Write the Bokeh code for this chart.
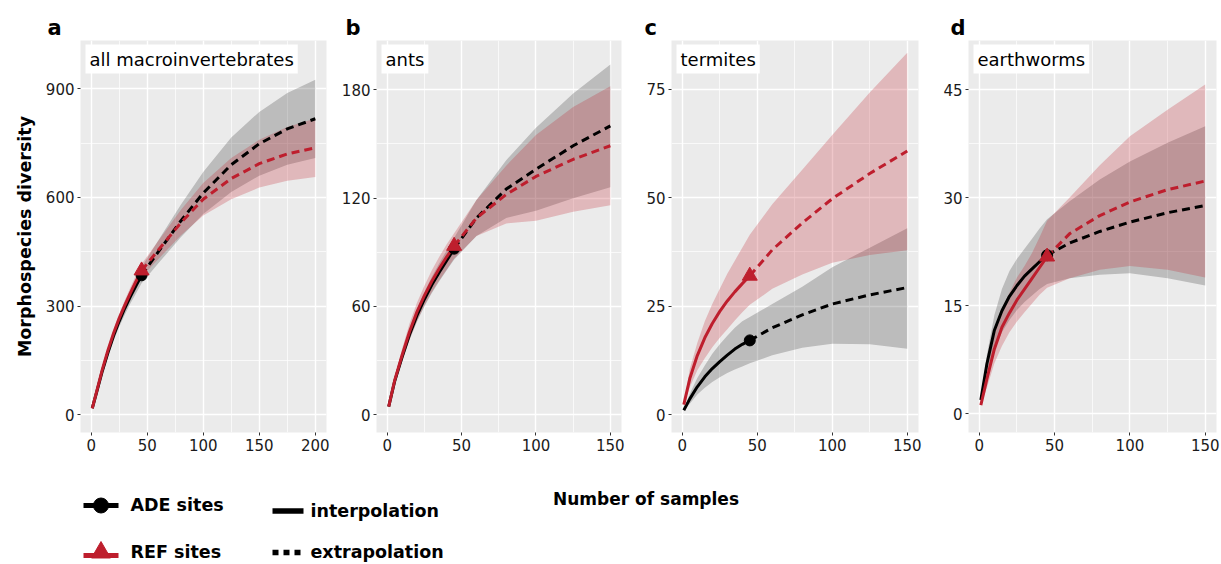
from bokeh.plotting import figure
from bokeh.layouts import row, column
from bokeh.models import Range1d, FixedTicker, Label
from bokeh.core.properties import value
from bokeh.embed import file_html
from bokeh.resources import INLINE

# ---- sample sizes (rarefaction up to the observed 45 samples, extrapolation beyond) ----
N_OBSERVED = 45
X_INTERP = [1, 5, 10, 15, 20, 25, 30, 35, 40, 45]
X_EXTRAP_150 = [60, 80, 100, 125, 150]
X_EXTRAP_200 = [60, 80, 100, 125, 150, 175, 200]

# ---- a: all macroinvertebrates ----
MACRO_ADE = [18, 63, 121, 172, 218, 258, 294, 326, 356, 385, 450, 535, 612, 690, 748, 789, 817]
MACRO_ADE_LO = [18, 58, 112, 160, 204, 242, 276, 307, 335, 363, 418, 490, 554, 615, 660, 690, 709]
MACRO_ADE_HI = [18, 68, 130, 184, 232, 274, 312, 345, 377, 407, 482, 580, 670, 765, 836, 888, 925]
MACRO_REF = [18, 65, 125, 178, 225, 266, 302, 336, 368, 398, 455, 530, 595, 652, 693, 720, 737]
MACRO_REF_LO = [18, 61, 118, 169, 214, 253, 288, 321, 351, 380, 430, 495, 550, 595, 627, 646, 656]
MACRO_REF_HI = [18, 69, 132, 187, 236, 279, 316, 351, 385, 416, 480, 565, 640, 709, 759, 794, 818]

# ---- b: ants ----
ANTS_ADE = [4.5, 18.5, 32, 44.5, 55, 64, 72, 79, 85.5, 92, 109, 125, 136, 149, 160]
ANTS_ADE_LO = [4.5, 17, 29.5, 41.5, 51.5, 60, 67.5, 74, 80, 86, 99, 109, 113, 120, 126]
ANTS_ADE_HI = [4.5, 20, 34.5, 47.5, 58.5, 68, 76.5, 84, 91, 98, 119, 141, 159, 178, 194]
ANTS_REF = [4.5, 19, 33, 46, 57, 66, 74, 81, 87.5, 93.5, 109, 122, 132, 141.5, 149]
ANTS_REF_LO = [4.5, 17, 29.5, 41.5, 52, 60.5, 68, 74.5, 80.5, 86.5, 99, 106, 107.5, 112.5, 116]
ANTS_REF_HI = [4.5, 21, 36.5, 50.5, 62, 71.5, 80, 87.5, 94.5, 100.5, 119, 138, 155, 170.5, 182]

# ---- c: termites ----
TERM_ADE = [1, 3.6, 6.4, 8.7, 10.6, 12.2, 13.7, 15.1, 16.2, 17.1, 20, 23, 25.5, 27.6, 29.3]
TERM_ADE_LO = [1, 2.5, 4.6, 6.2, 7.5, 8.6, 9.6, 10.4, 11.1, 11.8, 13.7, 15.4, 16.3, 16.2, 15.2]
TERM_ADE_HI = [1, 4.8, 8.4, 11.3, 14, 16.2, 18.2, 20, 21.5, 22.5, 25.5, 29.5, 34, 38.5, 43]
TERM_REF = [2.3, 8.3, 13.6, 17.7, 21, 23.8, 26.2, 28.3, 30.2, 32, 38, 44.2, 49.8, 55.6, 60.8]
TERM_REF_LO = [2.3, 6.3, 10.2, 13, 15.5, 17.7, 19.7, 21.7, 23.6, 25.3, 29, 32.3, 35, 36.8, 37.9]
TERM_REF_HI = [2.3, 10.5, 16.5, 21.5, 25.5, 29, 32.5, 35.5, 38.5, 41.5, 48.5, 56.5, 64.5, 74.3, 83.5]

# ---- d: earthworms ----
WORM_ADE = [1.9, 6.9, 11.6, 14.3, 16.3, 17.8, 19.1, 20.1, 21.1, 22, 23.7, 25.3, 26.6, 27.9, 28.9]
WORM_ADE_LO = [1.9, 5.4, 8.9, 11.3, 13, 14.4, 15.5, 16.4, 17.3, 18, 18.8, 19.3, 19.5, 18.8, 17.8]
WORM_ADE_HI = [1.9, 8.2, 13.7, 17.3, 19.8, 21.5, 22.9, 24.3, 25.7, 27, 29.5, 32.5, 35, 37.6, 39.9]
WORM_REF = [1.2, 4.8, 9, 12, 14, 15.8, 17.3, 18.8, 20.3, 21.8, 25, 27.5, 29.4, 31.1, 32.3]
WORM_REF_LO = [1.2, 3.6, 7, 9.4, 11.3, 12.8, 14.1, 15.3, 16.5, 17.5, 18.8, 20, 20.5, 20, 18.9]
WORM_REF_HI = [1.2, 6, 11, 14.6, 16.8, 18.9, 20.5, 22.3, 24.5, 26.8, 30, 34.5, 38.5, 42.2, 45.7]

# ---- labels and ticks ----
PANEL_LETTERS = ["a", "b", "c", "d"]
PANEL_NAMES = ["all macroinvertebrates", "ants", "termites", "earthworms"]
X_TICKS_200 = [0, 50, 100, 150, 200]
X_TICKS_150 = [0, 50, 100, 150]
Y_TICKS_MACRO = [0, 300, 600, 900]
Y_TICKS_ANTS = [0, 60, 120, 180]
Y_TICKS_TERM = [0, 25, 50, 75]
Y_TICKS_WORM = [0, 15, 30, 45]
GROUPS = ["ADE sites", "REF sites"]
METHODS = ["interpolation", "extrapolation"]

ADE_COLOR = "black"
REF_COLOR = "#BE1E2D"
PANEL_BG = "#EBEBEB"
FONT = "DejaVu Sans"

TOP_H = 40             # strip holding the panel letters
PANEL_H = 420          # figure height of each panel (frame + x axis)
FRAME_H = 392


def midpoints(ticks):
    return [(a + b) / 2 for a, b in zip(ticks[:-1], ticks[1:])]


def make_panel(idx, xs, ade, ade_lo, ade_hi, ref, ref_lo, ref_hi,
               x_rng, y_rng, xticks, yticks, width, left, right, ylabel=None):
    p = figure(width=width, height=PANEL_H, x_range=Range1d(*x_rng), y_range=Range1d(*y_rng),
               output_backend="svg", toolbar_location=None,
               min_border_left=left, min_border_right=right,
               min_border_top=0, min_border_bottom=PANEL_H - FRAME_H,
               background_fill_color=PANEL_BG, border_fill_color="white",
               outline_line_color=None)

    xt = FixedTicker(ticks=xticks, minor_ticks=midpoints(xticks))
    yt = FixedTicker(ticks=yticks, minor_ticks=midpoints(yticks))
    p.xaxis.ticker = xt
    p.yaxis.ticker = yt
    p.xgrid.ticker = xt
    p.ygrid.ticker = yt
    for g in (p.xgrid, p.ygrid):
        g.grid_line_color = "white"
        g.grid_line_width = 1.4
        g.minor_grid_line_color = "white"
        g.minor_grid_line_width = 0.7
    for ax in (p.xaxis, p.yaxis):
        ax.axis_line_color = None
        ax.minor_tick_line_color = None
        ax.major_tick_line_color = "#333333"
        ax.major_tick_in = 0
        ax.major_tick_out = 3
        ax.major_label_text_font = FONT
        ax.major_label_text_font_size = "15px"
        ax.major_label_text_color = "#1A1A1A"
    p.xaxis.major_label_standoff = 2
    p.yaxis.major_label_standoff = 2
    if ylabel:
        p.yaxis.axis_label = ylabel
        p.yaxis.axis_label_text_font = FONT
        p.yaxis.axis_label_text_font_style = "bold"
        p.yaxis.axis_label_text_font_size = "17.5px"
        p.yaxis.axis_label_text_color = "black"
        p.yaxis.axis_label_standoff = 8

    k = len(X_INTERP)
    # confidence bands
    p.varea(x=xs, y1=ade_lo, y2=ade_hi, fill_color="black", fill_alpha=0.2)
    p.varea(x=xs, y1=ref_lo, y2=ref_hi, fill_color=REF_COLOR, fill_alpha=0.25)
    # interpolated (solid) and extrapolated (dashed) curves
    for ys, col in ((ade, ADE_COLOR), (ref, REF_COLOR)):
        p.line(x=xs[:k], y=ys[:k], line_color=col, line_width=3)
        p.line(x=xs[k - 1:], y=ys[k - 1:], line_color=col, line_width=3, line_dash="8 5")
    # observed sample size
    i_obs = xs.index(N_OBSERVED)
    p.scatter(x=[xs[i_obs]], y=[ade[i_obs]], marker="circle", size=11,
              fill_color=ADE_COLOR, line_color=ADE_COLOR)
    p.scatter(x=[xs[i_obs]], y=[ref[i_obs]], marker="triangle", size=15,
              fill_color=REF_COLOR, line_color=REF_COLOR)

    p.add_layout(Label(x=5, y=FRAME_H - 4, x_units="screen", y_units="screen",
                       text=PANEL_NAMES[idx], text_align="left", text_baseline="top",
                       text_font=FONT, text_font_size="18px", text_color="black",
                       background_fill_color="white", padding=4))
    return p


xs200 = X_INTERP + X_EXTRAP_200
xs150 = X_INTERP + X_EXTRAP_150

pa = make_panel(0, xs200, MACRO_ADE, MACRO_ADE_LO, MACRO_ADE_HI, MACRO_REF, MACRO_REF_LO, MACRO_REF_HI,
                (-9.5, 210), (-48.9, 1033), X_TICKS_200, Y_TICKS_MACRO, 330, 80, 4,
                ylabel="Morphospecies diversity")
pb = make_panel(1, xs150, ANTS_ADE, ANTS_ADE_LO, ANTS_ADE_HI, ANTS_REF, ANTS_REF_LO, ANTS_REF_HI,
                (-7.2, 157.5), (-9.8, 207.3), X_TICKS_150, Y_TICKS_ANTS, 295, 46, 4)
pc = make_panel(2, xs150, TERM_ADE, TERM_ADE_LO, TERM_ADE_HI, TERM_REF, TERM_REF_LO, TERM_REF_HI,
                (-7.2, 157.5), (-4.15, 86.3), X_TICKS_150, Y_TICKS_TERM, 297, 46, 4)
pd = make_panel(3, xs150, WORM_ADE, WORM_ADE_LO, WORM_ADE_HI, WORM_REF, WORM_REF_LO, WORM_REF_HI,
                (-7.2, 157.5), (-2.6, 51.8), X_TICKS_150, Y_TICKS_WORM, 299, 46, 5)


def strip(height, y_top, y_bottom):
    """A blank full-width strip whose coordinates are page pixels."""
    s = figure(width=1221, height=height, x_range=Range1d(0, 1221), y_range=Range1d(y_bottom, y_top),
               output_backend="svg", toolbar_location=None, min_border=0,
               outline_line_color=None, x_axis_type=None, y_axis_type=None,
               background_fill_color="white", border_fill_color="white")
    s.grid.grid_line_color = None
    return s


bold = dict(text_font=value(FONT), text_font_style="bold", text_color="black")

# ---- panel letters ----
top = strip(TOP_H, 0, TOP_H)
top.text(x=[47, 345, 644, 950], y=[27.5] * 4, text=PANEL_LETTERS, text_align="left",
         text_baseline="middle", text_font_size="21px", **bold)

# ---- shared x title and legend ----
leg = strip(104, 460, 564)
leg.text(x=[645.5], y=[498], text=["Number of samples"], text_align="center",
         text_baseline="middle", text_font_size="17px", **bold)

# group keys
leg.line(x=[83, 118], y=[505, 505], line_color=ADE_COLOR, line_width=5)
leg.scatter(x=[100.5], y=[505], marker="circle", size=15, fill_color=ADE_COLOR, line_color=ADE_COLOR)
leg.line(x=[83, 118], y=[555, 555], line_color=REF_COLOR, line_width=5)
leg.scatter(x=[100.5], y=[552], marker="triangle", size=19, fill_color=REF_COLOR, line_color=REF_COLOR)
leg.text(x=[130, 130], y=[504, 551.5], text=GROUPS, text_align="left", text_baseline="middle",
         text_font_size="17.5px", **bold)

# method keys
leg.line(x=[272, 303], y=[510.5, 510.5], line_color="black", line_width=5.5)
leg.line(x=[272, 303], y=[552, 552], line_color="black", line_width=5.5, line_dash="6 5")
leg.text(x=[310, 310], y=[510, 551.5], text=METHODS, text_align="left", text_baseline="middle",
         text_font_size="17.5px", **bold)

layout = column(top, row(pa, pb, pc, pd, spacing=0), leg, spacing=0)

open("out.html", "w").write(file_html(layout, INLINE))
